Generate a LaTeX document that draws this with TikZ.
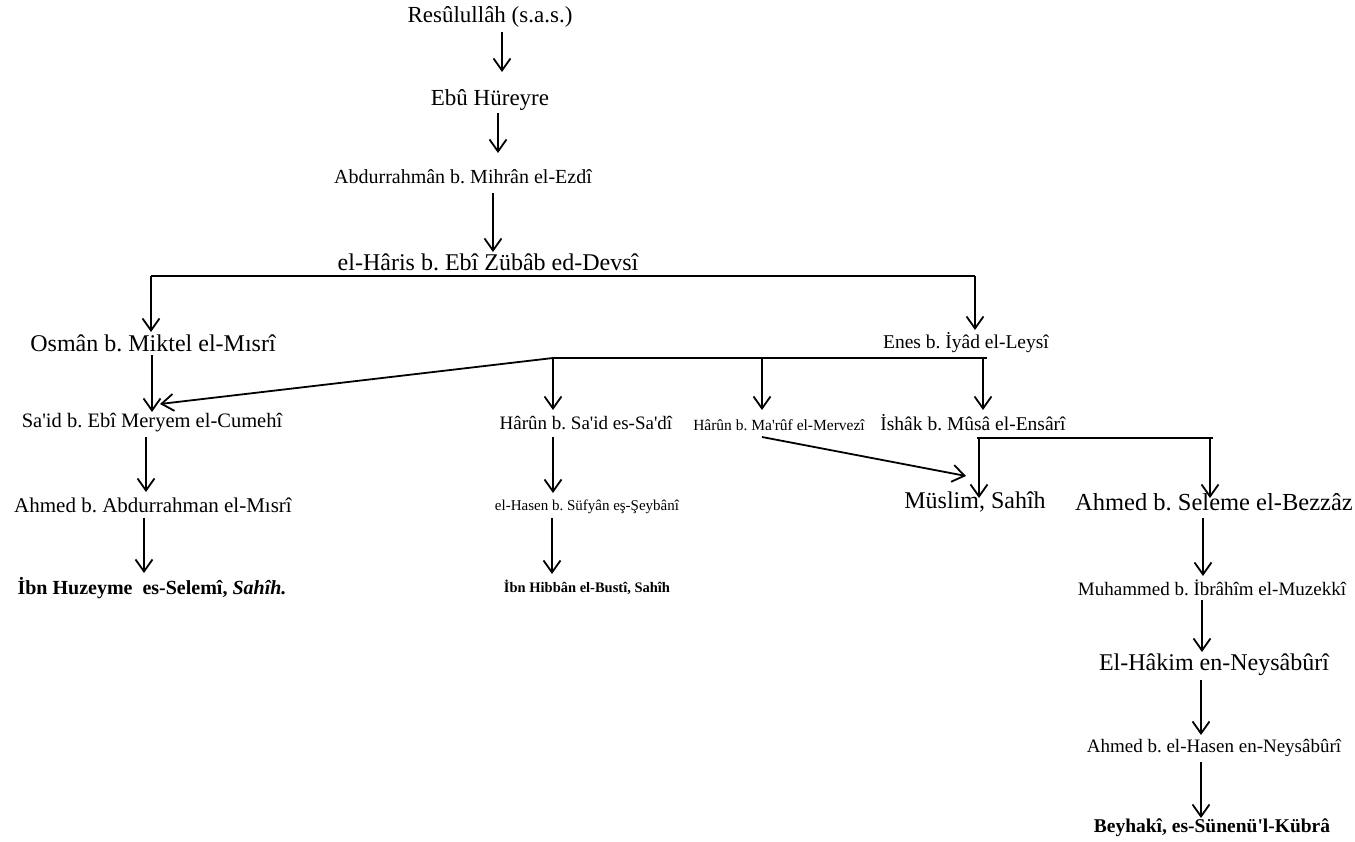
\documentclass[tikz,border=0pt]{standalone}
\usepackage{fontspec}
\newfontfamily\tnr{Liberation Serif}
\usetikzlibrary{arrows.meta}
\newcommand\fsz[1]{\fontsize{#1}{#1}\selectfont}
\frenchspacing
\begin{document}
\begin{tikzpicture}[x=1pt,y=-1pt,
  lbl/.style={inner sep=0pt, anchor=center, font=\tnr\frenchspacing},
  ln/.style={line width=1.8pt},
  arr/.style={line width=1.8pt, -{Straight Barb[length=12pt,width=17pt]}}]
\useasboundingbox (0,0) rectangle (1355,842);
% nodes
\node[lbl] (resul) at (490,17) {\fsz{23}Resûlullâh (s.a.s.)};
\node[lbl] (ebu) at (490,100) {\fsz{23}Ebû Hüreyre};
\node[lbl] (abd) at (463,177) {\fsz{20}Abdurrahmân b. Mihrân el-Ezdî};
\node[lbl] (haris) at (488,262) {\fsz{24}el-Hâris b. Ebî Zübâb ed-Devsî};
\node[lbl] (osman) at (153,343) {\fsz{24}Osmân b. Miktel el-Mısrî};
\node[lbl] (enes) at (966,343) {\fsz{19.5}Enes b. İyâd el-Leysî};
\node[lbl] (said) at (152,423) {\fsz{20.5}Sa'id b. Ebî Meryem el-Cumehî};
\node[lbl] (harun1) at (586,423) {\fsz{19}Hârûn b. Sa'id es-Sa'dî};
\node[lbl] (harun2) at (779,425) {\fsz{15.5}Hârûn b. Ma'rûf el-Mervezî};
\node[lbl] (ishak) at (973,423) {\fsz{19.5}İshâk b. Mûsâ el-Ensârî};
\node[lbl] (ahmed1) at (153,505) {\fsz{21}Ahmed b. Abdurrahman el-Mısrî};
\node[lbl] (hasen) at (587,507) {\fsz{15}el-Hasen b. Süfyân eş-Şeybânî};
\node[lbl] (muslim) at (975,502) {\fsz{24}Müslim, Sahîh};
\node[lbl] (bezzaz) at (1214,502) {\fsz{24.5}Ahmed b. Seleme el-Bezzâz};
\node[lbl] (huzeyme) at (152,588) {\fsz{20}\bfseries İbn Huzeyme\ \ es-Selemî, \itshape Sahîh.};
\node[lbl] (hibban) at (587,587) {\fsz{14.5}\bfseries İbn Hibbân el-Bustî, Sahîh};
\node[lbl] (muzekki) at (1212,588) {\fsz{19}Muhammed b. İbrâhîm el-Muzekkî};
\node[lbl] (hakim) at (1214,665) {\fsz{24}El-Hâkim en-Neysâbûrî};
\node[lbl] (ahmed2) at (1214,748) {\fsz{19}Ahmed b. el-Hasen en-Neysâbûrî};
\node[lbl] (beyhaki) at (1212,828) {\fsz{19.5}\bfseries Beyhakî, es-Sünenü'l-Kübrâ};
% connector points
\coordinate (c1a) at (502,32);   \coordinate (c1b) at (502,72);
\coordinate (c2a) at (498,113);  \coordinate (c2b) at (498,153);
\coordinate (c3a) at (493,193);  \coordinate (c3b) at (493,252);
\coordinate (bL) at (151,276);   \coordinate (bR) at (975,276);
\coordinate (tOsman) at (151,332); \coordinate (tEnes) at (975,330);
\coordinate (c5a) at (152,355);  \coordinate (c5b) at (152,412);
\coordinate (eL) at (553,358);   \coordinate (eM) at (762,358);
\coordinate (eR) at (983,358);   \coordinate (eEnd) at (987,358);
\coordinate (tSaid) at (160,404);
\coordinate (tHarun1) at (553,410); \coordinate (tHarun2) at (762,410); \coordinate (tIshak) at (983,410);
\coordinate (m1) at (762,437);   \coordinate (m2) at (966,476);
\coordinate (iL) at (979,438);   \coordinate (iEnd) at (977,438);
\coordinate (iR) at (1210,438);  \coordinate (iREnd) at (1213,438);
\coordinate (tMuslim) at (979,498); \coordinate (tBezzaz) at (1210,498);
\coordinate (c9a) at (146,437);  \coordinate (c9b) at (146,492);
\coordinate (c10a) at (144,518); \coordinate (c10b) at (144,573);
\coordinate (c11a) at (553,437); \coordinate (c11b) at (553,493);
\coordinate (c12a) at (552,518); \coordinate (c12b) at (552,574);
\coordinate (c13a) at (1203,518); \coordinate (c13b) at (1203,576);
\coordinate (c14a) at (1202,600); \coordinate (c14b) at (1202,652);
\coordinate (c15a) at (1201,680); \coordinate (c15b) at (1201,735);
\coordinate (c16a) at (1201,762); \coordinate (c16b) at (1201,818);
% connectors
\draw[arr] (c1a) -- (c1b);
\draw[arr] (c2a) -- (c2b);
\draw[arr] (c3a) -- (c3b);
\draw[ln] (bL) -- (bR);
\draw[arr] (bL) -- (tOsman);
\draw[arr] (bR) -- (tEnes);
\draw[arr] (c5a) -- (c5b);
\draw[ln] (eL) -- (eEnd);
\draw[arr] (eL) -- (tSaid);
\draw[arr] (eL) -- (tHarun1);
\draw[arr] (eM) -- (tHarun2);
\draw[arr] (eR) -- (tIshak);
\draw[arr] (m1) -- (m2);
\draw[ln] (iEnd) -- (iREnd);
\draw[arr] (iL) -- (tMuslim);
\draw[arr] (iR) -- (tBezzaz);
\draw[arr] (c9a) -- (c9b);
\draw[arr] (c10a) -- (c10b);
\draw[arr] (c11a) -- (c11b);
\draw[arr] (c12a) -- (c12b);
\draw[arr] (c13a) -- (c13b);
\draw[arr] (c14a) -- (c14b);
\draw[arr] (c15a) -- (c15b);
\draw[arr] (c16a) -- (c16b);
\end{tikzpicture}
\end{document}
